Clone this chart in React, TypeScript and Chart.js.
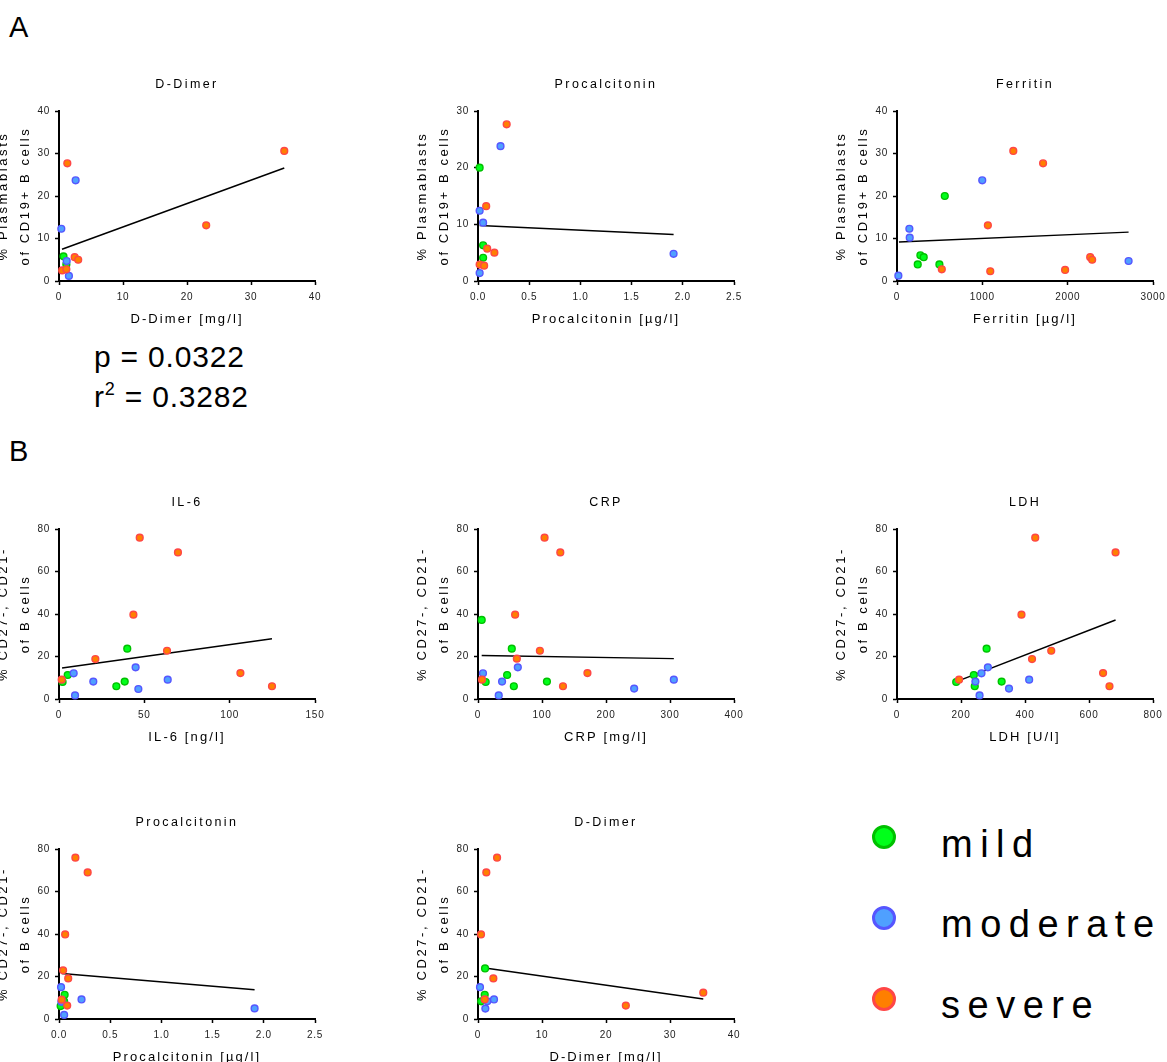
import React, { useEffect, useRef } from "react";
import { Chart, registerables } from "chart.js";

Chart.register(...registerables);

const FONT = '"Liberation Sans", Arial, Helvetica, sans-serif';

// ---------- data: [x, y] pairs ----------
// A1: D-Dimer vs % Plasmablasts
const a1Mild = [[0.7, 5.8], [1.15, 3.9]];
const a1Moderate = [[2.6, 23.7], [0.36, 12.3], [1.2, 4.7], [1.55, 1.2]];
const a1Severe = [[35.2, 30.6], [1.3, 27.7], [23.0, 13.1], [2.45, 5.6], [3.0, 5.0], [0.5, 2.5], [1.15, 2.75]];
const a1Fit = [[0.47, 7.47], [35.2, 26.6]];

// A2: Procalcitonin vs % Plasmablasts
const a2Mild = [[0.016, 20.0], [0.05, 6.3], [0.05, 4.1]];
const a2Moderate = [[0.22, 23.8], [0.016, 12.4], [0.05, 10.3], [0.016, 1.4], [1.91, 4.8]];
const a2Severe = [[0.28, 27.65], [0.08, 13.2], [0.09, 5.7], [0.16, 5.0], [0.016, 2.9], [0.06, 2.7]];
const a2Fit = [[0.016, 9.78], [1.91, 8.2]];

// A3: Ferritin vs % Plasmablasts
const a3Mild = [[560, 20.0], [274, 6.05], [313, 5.6], [243, 3.9], [497, 3.9]];
const a3Moderate = [[999, 23.7], [145, 12.3], [149, 10.2], [2714, 4.7], [16, 1.26]];
const a3Severe = [[1363, 30.6], [1712, 27.7], [1065, 13.1], [525, 2.75], [1093, 2.3], [1970, 2.6], [2264, 5.6], [2287, 5.0]];
const a3Fit = [[23, 9.2], [2714, 11.5]];

// B1: IL-6 vs % CD27-, CD21-
const b1Mild = [[40.0, 23.7], [5.1, 11.3], [38.5, 8.2], [2.1, 8.0], [33.6, 6.0]];
const b1Moderate = [[44.9, 14.9], [8.6, 12.1], [20.1, 8.2], [63.7, 9.1], [46.5, 4.7], [9.4, 1.7]];
const b1Severe = [[47.3, 75.9], [69.7, 69.0], [43.6, 39.7], [63.3, 22.7], [21.3, 18.8], [106.3, 12.2], [1.6, 9.1], [124.8, 6.0]];
const b1Fit = [[1.8, 14.6], [124.8, 28.4]];

// B2: CRP
const b2Mild = [[5.8, 37.2], [52.8, 23.7], [45.5, 11.3], [107.7, 8.2], [12, 8.0], [56, 6.0]];
const b2Moderate = [[62.2, 14.9], [7.8, 12.1], [37.6, 8.2], [306, 9.1], [244, 4.9], [32.4, 1.7]];
const b2Severe = [[104, 75.9], [128.6, 69.0], [58, 39.7], [96.7, 22.7], [60.7, 19.0], [171, 12.2], [6.3, 9.1], [132.8, 6.0]];
const b2Fit = [[5.8, 20.5], [306, 19.0]];

// B3: LDH
const b3Mild = [[280, 23.7], [240, 11.3], [327, 8.2], [185, 8.0], [243, 6.0]];
const b3Moderate = [[284, 14.9], [264, 12.1], [245, 8.2], [413, 9.1], [350, 4.9], [258, 1.7]];
const b3Severe = [[432, 75.9], [683, 69.0], [389, 39.7], [482, 22.7], [422, 18.8], [644, 12.2], [194, 9.1], [664, 6.0]];
const b3Fit = [[187.5, 8.3], [683, 37.2]];

// B4: Procalcitonin
const b4Mild = [[0.055, 11.4], [0.05, 8.3], [0.016, 6.1]];
const b4Moderate = [[0.02, 15.0], [0.22, 9.2], [1.91, 5.0], [0.023, 8.1], [0.05, 1.9]];
const b4Severe = [[0.16, 75.9], [0.28, 69.0], [0.06, 39.8], [0.04, 22.9], [0.09, 19.1], [0.026, 9.1], [0.08, 6.3]];
const b4Fit = [[0.026, 21.4], [1.91, 13.8]];

// B5: D-Dimer
const b5Mild = [[1.1, 23.8], [1.05, 11.4], [0.5, 8.3]];
const b5Moderate = [[0.31, 15.0], [1.46, 8.3], [2.5, 9.2], [1.15, 4.9]];
const b5Severe = [[2.98, 75.9], [1.3, 69.0], [0.47, 39.8], [2.4, 19.1], [1.05, 9.2], [23.1, 6.3], [35.2, 12.4]];
const b5Fit = [[1.1, 24.0], [35.2, 9.4]];

// labels
const yLabelA = ["% Plasmablasts", "of CD19+ B cells"];
const yLabelB = ["% CD27-, CD21-", "of B cells"];
const groupNames = ["mild", "moderate", "severe"];

const COLORS = {
  mild: { bg: "#00ff1a", border: "#00c000" },
  moderate: { bg: "#4fa0ff", border: "#5656ff" },
  severe: { bg: "#ff7f00", border: "#ff4646" },
};

type Panel = {
  title: string;
  xLabel: string;
  yLabel: string[];
  xMax: number;
  xStep: number;
  xDec: number;
  yMax: number;
  yStep: number;
  mild: number[][];
  moderate: number[][];
  severe: number[][];
  fit: number[][];
  left: number;
  top: number;
};

const Y_W = 70;
const TOP_H = 50;
const X_H = 50;
const CW = 356;
const CH = 270;

const panels: Panel[] = [
  { title: "D-Dimer", xLabel: "D-Dimer [mg/l]", yLabel: yLabelA, xMax: 40, xStep: 10, xDec: 0, yMax: 40, yStep: 10, mild: a1Mild, moderate: a1Moderate, severe: a1Severe, fit: a1Fit, left: 59, top: 111 },
  { title: "Procalcitonin", xLabel: "Procalcitonin [µg/l]", yLabel: yLabelA, xMax: 2.5, xStep: 0.5, xDec: 1, yMax: 30, yStep: 10, mild: a2Mild, moderate: a2Moderate, severe: a2Severe, fit: a2Fit, left: 478, top: 111 },
  { title: "Ferritin", xLabel: "Ferritin [µg/l]", yLabel: yLabelA, xMax: 3000, xStep: 1000, xDec: 0, yMax: 40, yStep: 10, mild: a3Mild, moderate: a3Moderate, severe: a3Severe, fit: a3Fit, left: 897, top: 111 },
  { title: "IL-6", xLabel: "IL-6 [ng/l]", yLabel: yLabelB, xMax: 150, xStep: 50, xDec: 0, yMax: 80, yStep: 20, mild: b1Mild, moderate: b1Moderate, severe: b1Severe, fit: b1Fit, left: 59, top: 529 },
  { title: "CRP", xLabel: "CRP [mg/l]", yLabel: yLabelB, xMax: 400, xStep: 100, xDec: 0, yMax: 80, yStep: 20, mild: b2Mild, moderate: b2Moderate, severe: b2Severe, fit: b2Fit, left: 478, top: 529 },
  { title: "LDH", xLabel: "LDH [U/l]", yLabel: yLabelB, xMax: 800, xStep: 200, xDec: 0, yMax: 80, yStep: 20, mild: b3Mild, moderate: b3Moderate, severe: b3Severe, fit: b3Fit, left: 897, top: 529 },
  { title: "Procalcitonin", xLabel: "Procalcitonin [µg/l]", yLabel: yLabelB, xMax: 2.5, xStep: 0.5, xDec: 1, yMax: 80, yStep: 20, mild: b4Mild, moderate: b4Moderate, severe: b4Severe, fit: b4Fit, left: 59, top: 849 },
  { title: "D-Dimer", xLabel: "D-Dimer [mg/l]", yLabel: yLabelB, xMax: 40, xStep: 10, xDec: 0, yMax: 80, yStep: 20, mild: b5Mild, moderate: b5Moderate, severe: b5Severe, fit: b5Fit, left: 478, top: 849 },
];

const spacingPlugin = {
  id: "letterSpacing",
  beforeDraw(chart: any) {
    const ctx = chart.ctx as any;
    ctx.letterSpacing = "2.4px";
    Object.values(chart.scales).forEach((s: any) => {
      if (s.__patched) return;
      s.__patched = true;
      const origLabels = s.drawLabels.bind(s);
      const origTitle = s.drawTitle.bind(s);
      const horiz = s.isHorizontal();
      s.drawLabels = (ca: any) => {
        ctx.save();
        ctx.letterSpacing = "0.7px";
        origLabels(ca);
        ctx.restore();
      };
      s.drawTitle = (ca: any) => {
        ctx.save();
        ctx.letterSpacing = horiz ? "2.1px" : "2.6px";
        origTitle(ca);
        ctx.restore();
      };
    });
  },
  afterDraw(chart: any) {
    (chart.ctx as any).letterSpacing = "0px";
  },
};

const toPts = (arr: number[][]) => arr.map(([x, y]) => ({ x, y }));

function ScatterPanel({ p }: { p: Panel }) {
  const ref = useRef<HTMLCanvasElement>(null);
  useEffect(() => {
    if (!ref.current) return;
    const group = (name: "mild" | "moderate" | "severe", data: number[][], order: number) => ({
      label: name,
      data: toPts(data),
      backgroundColor: COLORS[name].bg,
      borderColor: COLORS[name].border,
      pointBackgroundColor: COLORS[name].bg,
      pointBorderColor: COLORS[name].border,
      pointRadius: 3.4,
      pointHoverRadius: 3.4,
      pointBorderWidth: 1.4,
      showLine: false,
      clip: false as any,
      order,
    });
    const chart = new Chart(ref.current, {
      type: "scatter",
      data: {
        datasets: [
          group("mild", p.mild, 3),
          group("moderate", p.moderate, 2),
          group("severe", p.severe, 1),
          {
            label: "fit",
            data: toPts(p.fit),
            showLine: true,
            borderColor: "#000",
            borderWidth: 1.5,
            pointRadius: 0,
            pointHoverRadius: 0,
            clip: false as any,
            order: 4,
          } as any,
        ],
      },
      options: {
        responsive: false,
        animation: false,
        events: [],
        layout: { padding: { left: 0, top: 0, right: CW - Y_W - 256, bottom: 0 } },
        plugins: {
          legend: { display: false },
          tooltip: { enabled: false },
          title: {
            display: true,
            fullSize: false,
            text: p.title,
            color: "#000",
            font: { family: FONT, size: 12.5, weight: "normal", lineHeight: 1.2 },
            padding: { top: 16.5, bottom: 18.5 },
          },
        },
        scales: {
          x: {
            type: "linear",
            min: 0,
            max: p.xMax,
            afterFit: (s: any) => {
              s.height = X_H;
            },
            ticks: {
              stepSize: p.xStep,
              color: "#222",
              padding: 6,
              maxRotation: 0,
              font: { family: FONT, size: 10 },
              callback: (v: any) => Number(v).toFixed(p.xDec),
            },
            grid: {
              display: true,
              drawOnChartArea: false,
              drawTicks: true,
              tickLength: 4,
              tickWidth: 1.5,
              tickColor: "#000",
            },
            border: { display: true, color: "#000", width: 2 },
            title: {
              display: true,
              text: p.xLabel,
              color: "#000",
              font: { family: FONT, size: 13, lineHeight: 1.2 },
              padding: { top: 0, bottom: 3.7 },
            },
          },
          y: {
            type: "linear",
            min: 0,
            max: p.yMax,
            afterFit: (s: any) => {
              s.width = Y_W;
            },
            ticks: {
              stepSize: p.yStep,
              color: "#222",
              padding: 5,
              font: { family: FONT, size: 10 },
            },
            grid: {
              display: true,
              drawOnChartArea: false,
              drawTicks: true,
              tickLength: 4,
              tickWidth: 1.5,
              tickColor: "#000",
            },
            border: { display: true, color: "#000", width: 2 },
            title: {
              display: true,
              text: p.yLabel,
              color: "#000",
              font: { family: FONT, size: 13, lineHeight: 1.75 },
              padding: { top: 2.6, bottom: 0 },
            },
          },
        },
      },
      plugins: [spacingPlugin],
    });
    return () => chart.destroy();
  }, [p]);
  return (
    <canvas
      ref={ref}
      width={CW}
      height={CH}
      style={{ position: "absolute", left: p.left - Y_W, top: p.top - TOP_H, width: CW, height: CH }}
    />
  );
}

export default function App() {
  const legendTops = [824.5, 905.3, 986.1];
  const legendKeys: ("mild" | "moderate" | "severe")[] = ["mild", "moderate", "severe"];
  return (
    <div
      style={{
        position: "absolute",
        left: 0,
        top: 0,
        width: 1167,
        height: 1062,
        overflow: "hidden",
        background: "#fff",
        fontFamily: FONT,
        color: "#000",
      }}
    >
      {panels.map((p, i) => (
        <ScatterPanel key={i} p={p} />
      ))}
      <div style={{ position: "absolute", left: 9, top: 13.3, fontSize: 29, lineHeight: 1 }}>A</div>
      <div style={{ position: "absolute", left: 9, top: 437.3, fontSize: 29, lineHeight: 1 }}>B</div>
      <div style={{ position: "absolute", left: 94, top: 336.6, fontSize: 30, lineHeight: "40px", letterSpacing: 0.8, whiteSpace: "nowrap" }}>
        <div>p = 0.0322</div>
        <div>
          r<span style={{ fontSize: 18, position: "relative", top: -12 }}>2</span> = 0.3282
        </div>
      </div>
      {legendKeys.map((k, i) => (
        <React.Fragment key={k}>
          <div
            style={{
              position: "absolute",
              left: 872,
              top: legendTops[i] + 32.2 - 19.7 - 12,
              width: 24,
              height: 24,
              boxSizing: "border-box",
              borderRadius: "50%",
              background: COLORS[k].bg,
              border: `3.5px solid ${COLORS[k].border}`,
            }}
          />
          <div
            style={{
              position: "absolute",
              left: 941,
              top: legendTops[i],
              fontSize: 38,
              lineHeight: 1,
              letterSpacing: 7.5,
              whiteSpace: "nowrap",
            }}
          >
            {groupNames[i]}
          </div>
        </React.Fragment>
      ))}
    </div>
  );
}
